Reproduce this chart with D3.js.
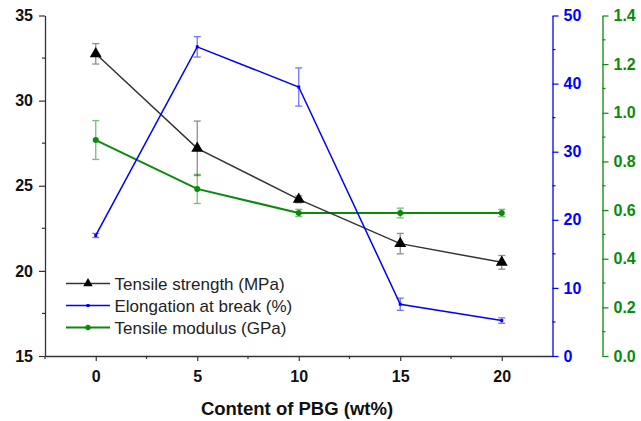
<!DOCTYPE html>
<html><head><meta charset="utf-8">
<script src="https://cdn.jsdelivr.net/npm/d3@7"></script>
<style>body{margin:0;background:#fff}svg{display:block}text{font-family:"Liberation Sans",Arial,sans-serif}</style>
</head><body>
<svg id="c" width="641" height="421"></svg>
<script>
const contents = [0, 5, 10, 15, 20];
const strength = [32.75, 27.2, 24.2, 21.6, 20.5];
const strengthErr = [0.6, 1.6, 0.2, 0.6, 0.4];
const elongation = [17.7, 45.4, 39.5, 7.6, 5.2];
const elongationErr = [0.3, 1.5, 2.8, 0.9, 0.4];
const modulus = [0.888, 0.687, 0.588, 0.588, 0.588];
const modulusErr = [0.08, 0.06, 0.015, 0.02, 0.015];
const xTicks = [0, 5, 10, 15, 20];
const leftTicks = [15, 20, 25, 30, 35];
const blueTicks = [0, 10, 20, 30, 40, 50];
const greenTicks = [0, 0.2, 0.4, 0.6, 0.8, 1.0, 1.2, 1.4];
const legendLabels = ["Tensile strength (MPa)", "Elongation at break (%)", "Tensile modulus (GPa)"];

const svg = d3.select("#c");
const L = 45, R = 552.5, T = 15.5, B = 356, G = 602.5;
const BLUE = "#0000ff", GREEN = "#0a8a0a";

const x = d3.scaleLinear().domain([-2.5, 22.5]).range([L, R]);
const yL = d3.scaleLinear().domain([15, 35]).range([B, T]);
const yB = d3.scaleLinear().domain([0, 50]).range([B, T]);
const yG = d3.scaleLinear().domain([0, 1.4]).range([B, T]);

function styleAxis(g, color, size) {
  g.selectAll(".domain").attr("stroke", color).attr("stroke-width", 1.3);
  g.selectAll(".tick line").attr("stroke", color).attr("stroke-width", 1.2);
  g.selectAll(".tick text").attr("fill", color).attr("font-weight", "bold").attr("font-size", size);
}
function minor(g, scale, vals, orient, color, len) {
  vals.forEach(v => {
    const p = scale(v);
    const ln = g.append("line").attr("stroke", color).attr("stroke-width", 1.2);
    if (orient === "bottom") ln.attr("x1", p).attr("x2", p).attr("y1", 0).attr("y2", len);
    else if (orient === "left") ln.attr("y1", p).attr("y2", p).attr("x1", 0).attr("x2", -len);
    else ln.attr("y1", p).attr("y2", p).attr("x1", 0).attr("x2", len);
  });
}

// x axis
const gx = svg.append("g").attr("transform", `translate(0,${B})`)
  .call(d3.axisBottom(x).tickValues(xTicks).tickSize(5).tickSizeOuter(0).tickPadding(10));
styleAxis(gx, "#333", 16);
gx.selectAll(".tick text").attr("fill", "#111");
minor(gx, x, [-2.5, 2.5, 7.5, 12.5, 17.5], "bottom", "#333", 3);

// left axis
const gl = svg.append("g").attr("transform", `translate(${L},0)`)
  .call(d3.axisLeft(yL).tickValues(leftTicks).tickSize(6).tickSizeOuter(0).tickPadding(6));
styleAxis(gl, "#333", 16);
gl.selectAll(".tick text").attr("fill", "#111");
minor(gl, yL, [17.5, 22.5, 27.5, 32.5], "left", "#333", 3);

// blue right axis
const gb = svg.append("g").attr("transform", `translate(${R},0)`)
  .call(d3.axisRight(yB).tickValues(blueTicks).tickSize(6).tickSizeOuter(0).tickPadding(5));
styleAxis(gb, BLUE, 16);
minor(gb, yB, [5, 15, 25, 35, 45], "right", BLUE, 3);

// green right axis
const gg = svg.append("g").attr("transform", `translate(${G},0)`)
  .call(d3.axisRight(yG).tickValues(greenTicks).tickSize(6).tickSizeOuter(0).tickPadding(5)
    .tickFormat(d3.format(".1f")));
styleAxis(gg, GREEN, 16);
minor(gg, yG, [0.1, 0.3, 0.5, 0.7, 0.9, 1.1, 1.3], "right", GREEN, 3);

// x axis title
svg.append("text").attr("x", 297).attr("y", 415).attr("text-anchor", "middle")
  .attr("font-size", 18.5).attr("font-weight", "bold").attr("fill", "#111").text("Content of PBG (wt%)");

function errBars(vals, errs, scale, color) {
  const g = svg.append("g").attr("stroke", color).attr("stroke-width", 1.3).attr("opacity", 0.55);
  contents.forEach((c, i) => {
    const cx = x(c), y1 = scale(vals[i] + errs[i]), y2 = scale(vals[i] - errs[i]);
    g.append("line").attr("x1", cx).attr("x2", cx).attr("y1", y1).attr("y2", y2);
    g.append("line").attr("x1", cx - 3.5).attr("x2", cx + 3.5).attr("y1", y1).attr("y2", y1);
    g.append("line").attr("x1", cx - 3.5).attr("x2", cx + 3.5).attr("y1", y2).attr("y2", y2);
  });
}
errBars(modulus, modulusErr, yG, GREEN);
errBars(strength, strengthErr, yL, "#333");
errBars(elongation, elongationErr, yB, BLUE);

function line(vals, scale, color, w) {
  svg.append("path").datum(vals)
    .attr("d", d3.line().x((d, i) => x(contents[i])).y(d => scale(d)))
    .attr("fill", "none").attr("stroke", color).attr("stroke-width", w);
}
line(modulus, yG, GREEN, 2);
line(strength, yL, "#333", 1.5);
line(elongation, yB, BLUE, 1.5);

const tri = d3.symbol().type(d3.symbolTriangle).size(62);
const triSmall = d3.symbol().type(d3.symbolTriangle).size(38);
svg.append("g").selectAll("path").data(strength).join("path")
  .attr("transform", (d, i) => `translate(${x(contents[i])},${yL(d)})`).attr("d", tri).attr("fill", "#000");
svg.append("g").selectAll("circle").data(modulus).join("circle")
  .attr("cx", (d, i) => x(contents[i])).attr("cy", d => yG(d)).attr("r", 3).attr("fill", GREEN);
svg.append("g").selectAll("rect").data(elongation).join("rect")
  .attr("x", (d, i) => x(contents[i]) - 1.5).attr("y", d => yB(d) - 1.5).attr("width", 3).attr("height", 3).attr("fill", BLUE);

// legend
const legY = [283.5, 305.5, 327.5];
const legColors = ["#333", BLUE, GREEN];
const lg = svg.append("g");
legendLabels.forEach((lab, i) => {
  lg.append("line").attr("x1", 66).attr("x2", 110).attr("y1", legY[i]).attr("y2", legY[i])
    .attr("stroke", legColors[i]).attr("stroke-width", i === 2 ? 2 : 1.5);
  if (i === 0) lg.append("path").attr("transform", `translate(88,${legY[i]})`).attr("d", triSmall).attr("fill", "#000");
  else if (i === 1) lg.append("rect").attr("x", 86.5).attr("y", legY[i] - 1.5).attr("width", 3).attr("height", 3).attr("fill", BLUE);
  else lg.append("circle").attr("cx", 88).attr("cy", legY[i]).attr("r", 2.7).attr("fill", GREEN);
  lg.append("text").attr("x", 114.5).attr("y", legY[i] + 6).attr("font-size", 17).attr("fill", "#222").text(lab);
});
</script>
</body></html>
